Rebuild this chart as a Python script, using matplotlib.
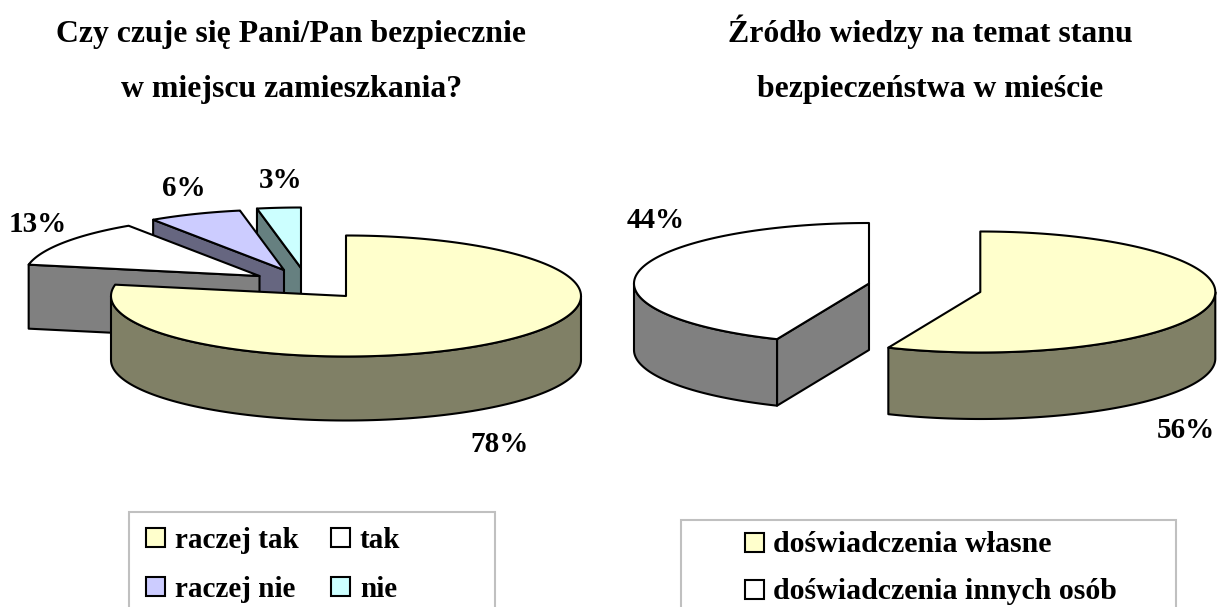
import numpy as np
import matplotlib
matplotlib.use("Agg")
import matplotlib.pyplot as plt
from matplotlib.patches import Polygon, Rectangle

# ---- data ----
left_title = ["Czy czuje się Pani/Pan bezpiecznie", "w miejscu zamieszkania?"]
right_title = ["Źródło wiedzy na temat stanu", "bezpieczeństwa w mieście"]
left_categories = ["raczej tak", "tak", "raczej nie", "nie"]
left_values = [78, 12.6, 6.4, 3]
right_categories = ["doświadczenia własne", "doświadczenia innych osób"]
right_values = [56.4, 43.6]

# ---- styles ----
top_colors = ["#FFFFCC", "#FFFFFF", "#CCCCFF", "#CCFFFF"]
side_colors = ["#808066", "#808080", "#666680", "#668080"]
FONT = "Liberation Serif"

# ---- layout (pixels) ----
left_centers = [(346, 296), (259.5, 276), (284, 270), (301, 268)]
right_centers = [(980.3, 292), (869, 283.5)]
left_label_pos = [(500, 445), (38, 224), (184, 189), (281, 181)]
right_label_pos = [(1186, 430), (656, 220)]
A, B = 235, 60.5
DL, DR = 64, 66.5


def ell(cx, cy, t):
    t = np.radians(t)
    return cx + A * np.sin(t), cy - B * np.cos(t)


def draw_slice(ax, c, t0, t1, depth, top, side, z):
    cx, cy = c
    kw = dict(edgecolor="black", linewidth=1.5, joinstyle="round", zorder=z)
    for t, sgn in ((t0, -1), (t1, 1)):
        if sgn * np.sin(np.radians(t)) > 1e-6:
            x, y = ell(cx, cy, t)
            ax.add_patch(Polygon([(cx, cy), (x, y), (x, y + depth), (cx, cy + depth)],
                                 facecolor=side, **kw))
    w0, w1 = max(t0, 90), min(t1, 270)
    if w1 > w0:
        ts = np.linspace(w0, w1, 120)
        x, y = ell(cx, cy, ts)
        pts = np.r_[np.c_[x, y], np.c_[x[::-1], y[::-1] + depth]]
        ax.add_patch(Polygon(pts, facecolor=side, **kw))
    ts = np.linspace(t0, t1, 200)
    x, y = ell(cx, cy, ts)
    pts = np.r_[[(cx, cy)], np.c_[x, y]]
    ax.add_patch(Polygon(pts, facecolor=top, **kw))


def draw_pie(ax, values, centers, depth, base_z):
    edges = np.r_[0, np.cumsum(values)] / np.sum(values) * 360
    for i in range(len(values) - 1, -1, -1):
        z = base_z + (len(values) - i)
        draw_slice(ax, centers[i], edges[i], edges[i + 1], depth,
                   top_colors[i], side_colors[i], z)


fig = plt.figure(figsize=(12.18, 6.07), dpi=100)
ax = fig.add_axes([0, 0, 1, 1])
ax.set_xlim(0, 1218)
ax.set_ylim(607, 0)
ax.axis("off")

draw_pie(ax, left_values, left_centers, DL, 2)
draw_pie(ax, right_values, right_centers, DR, 2)


def txt(x, y, s, size, ha="center", va="center"):
    ax.text(x, y, s, fontsize=size, fontweight="bold", family=FONT,
            ha=ha, va=va, color="black", zorder=20)


txt(291.5, 41.7, left_title[0], 22.9, va="baseline")
txt(291.5, 96.7, left_title[1], 22.9, va="baseline")
txt(930, 41.7, right_title[0], 22.9, va="baseline")
txt(930, 96.7, right_title[1], 22.9, va="baseline")

for v, p in zip(left_values, left_label_pos):
    txt(p[0], p[1], f"{v:.0f}%", 21)
for v, p in zip(right_values, right_label_pos):
    txt(p[0], p[1], f"{v:.0f}%", 21)

# legends
border = "#C0C0C0"
ax.add_patch(Rectangle((128.5, 512), 366, 120, facecolor="white", edgecolor=border,
                       linewidth=1.5, zorder=1))
ax.add_patch(Rectangle((680.5, 519.5), 495, 120, facecolor="white", edgecolor=border,
                       linewidth=1.5, zorder=1))

left_leg = [(146, 537), (331, 537), (146, 586), (331, 586)]
left_base = [548, 548, 597, 597]
for i, (name, (x, y)) in enumerate(zip(left_categories, left_leg)):
    ax.add_patch(Rectangle((x, y - 9.5), 19, 19, facecolor=top_colors[i],
                           edgecolor="black", linewidth=1.5, zorder=5))
    txt(x + 29, left_base[i], name, 21, ha="left", va="baseline")

right_leg = [(745, 542), (745, 589)]
right_base = [552, 599]
for i, (name, (x, y)) in enumerate(zip(right_categories, right_leg)):
    ax.add_patch(Rectangle((x, y - 9.5), 19, 19, facecolor=top_colors[i],
                           edgecolor="black", linewidth=1.5, zorder=5))
    txt(x + 28, right_base[i], name, 21.5, ha="left", va="baseline")

fig.savefig("out.png", dpi=100, facecolor="white")
